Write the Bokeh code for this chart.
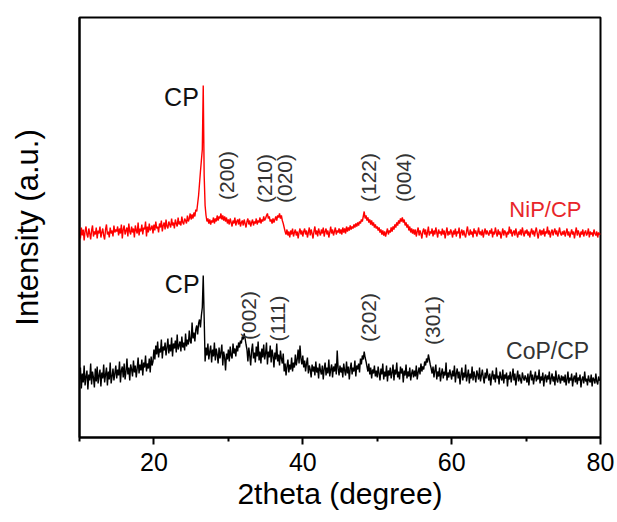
import numpy as np
from bokeh.plotting import figure
from bokeh.models import Range1d, FixedTicker
from bokeh.core.properties import value
from bokeh.embed import file_html
from bokeh.resources import INLINE

# NiP/CP intensity (a.u., offset trace), one value every 0.125 degree from 10 to 80
nip_cp = [
    205, 199, 210, 202, 208, 197, 206, 211, 203, 200, 209, 204, 198, 207, 212, 201, 206, 203, 210, 199,
    207, 204, 211, 200, 205, 209, 202, 198, 208, 213, 203, 206, 200, 210, 204, 207, 201, 212, 205, 208,
    206, 211, 202, 209, 204, 213, 199, 208, 212, 203, 207, 210, 201, 214, 206, 203, 211, 205, 209, 200,
    212, 207, 204, 215, 202, 209, 206, 213, 203, 210, 208, 216, 201, 211, 205, 214, 207, 209, 212, 204,
    213, 207, 216, 209, 211, 205, 214, 210, 217, 206, 212, 215, 208, 218, 211, 209, 216, 213, 210, 219,
    212, 215, 209, 218, 214, 211, 220, 213, 216, 212, 221, 215, 213, 219, 217, 214, 222, 216, 219, 224,
    218, 223, 219, 225, 221, 228, 226, 234, 242, 254, 266, 277, 288, 352, 262, 232, 222, 216, 219, 214,
    218, 213, 217, 215, 220, 214, 219, 216, 222, 217, 221, 219, 224, 218, 222, 217, 221, 216, 220, 214,
    218, 213, 219, 215, 211, 217, 214, 220, 212, 216, 218, 213, 219, 211, 215, 217, 212, 218, 214, 210,
    216, 219, 213, 217, 211, 215, 218, 212, 216, 214, 219, 213, 217, 215, 220, 214, 218, 216, 221, 217,
    219, 222, 224, 219, 221, 216, 218, 214, 219, 215, 218, 221, 217, 222, 220, 224, 219, 222, 217, 214,
    210, 206, 203, 208, 202, 206, 200, 207, 203, 209, 201, 205, 208, 202, 206, 199, 205, 209, 203, 207,
    201, 206, 209, 203, 207, 200, 205, 210, 202, 208, 204, 199, 206, 211, 203, 207, 201, 209, 205, 202,
    208, 204, 210, 201, 206, 209, 203, 207, 200, 205, 211, 204, 208, 202, 206, 210, 203, 207, 205, 209,
    204, 208, 203, 210, 205, 209, 204, 211, 206, 210, 207, 212, 208, 211, 209, 213, 210, 214, 211, 215,
    212, 216, 214, 218, 216, 221, 226, 219, 222, 217, 220, 215, 218, 213, 217, 212, 215, 210, 213, 209,
    211, 207, 210, 205, 208, 203, 207, 202, 206, 201, 205, 209, 203, 207, 205, 210, 206, 211, 208, 213,
    210, 215, 212, 217, 214, 219, 216, 220, 215, 218, 212, 215, 210, 213, 207, 211, 205, 209, 204, 208,
    203, 208, 201, 206, 210, 202, 207, 204, 199, 206, 209, 203, 208, 200, 205, 211, 202, 206, 204, 209,
    201, 207, 203, 210, 205, 200, 208, 204, 206, 202, 209, 203, 207, 199, 205, 210, 202, 206, 203, 208,
    205, 200, 207, 203, 209, 201, 206, 204, 210, 199, 205, 208, 202, 207, 203, 200, 206, 211, 204, 202,
    208, 203, 206, 200, 209, 204, 207, 201, 205, 210, 203, 206, 202, 208, 200, 205, 209, 203, 207, 204,
    202, 207, 204, 209, 200, 206, 203, 210, 205, 201, 208, 203, 206, 199, 204, 209, 202, 207, 205, 200,
    206, 203, 211, 204, 208, 201, 205, 207, 202, 209, 204, 200, 206, 203, 208, 202, 210, 205, 201, 207,
    204, 208, 202, 206, 200, 205, 209, 203, 207, 201, 206, 210, 204, 199, 205, 208, 202, 207, 203, 209,
    201, 206, 204, 211, 203, 207, 200, 205, 208, 202, 206, 209, 203, 207, 201, 205, 210, 204, 202, 206,
    203, 207, 201, 205, 209, 202, 206, 200, 204, 208, 203, 206, 199, 205, 210, 202, 207, 204, 200, 206,
    203, 208, 201, 205, 207, 202, 204, 209, 200, 206, 203, 205, 201, 208, 204, 202, 206, 200, 205, 203,
    204,
]

# CoP/CP intensity (a.u., offset trace), one value every 0.125 degree from 10 to 80
cop_cp = [
    58, 70, 49, 64, 55, 72, 52, 61, 67, 48, 63, 57, 74, 53, 66, 60, 50, 69, 56, 71,
    54, 62, 68, 51, 65, 59, 73, 55, 63, 70, 52, 66, 58, 75, 54, 61, 69, 57, 64, 72,
    59, 68, 62, 76, 55, 67, 71, 60, 74, 58, 66, 79, 63, 70, 57, 73, 68, 61, 77, 65,
    72, 60, 69, 80, 64, 73, 67, 78, 62, 75, 70, 82, 66, 74, 69, 79, 65, 81, 72, 76,
    88, 78, 92, 83, 96, 80, 89, 85, 98, 79, 91, 87, 95, 82, 90, 99, 84, 93, 86, 100,
    81, 94, 89, 97, 85, 103, 88, 92, 96, 86, 101, 90, 95, 87, 104, 91, 98, 93, 107, 96,
    94, 115, 99, 105, 96, 108, 112, 103, 114, 118, 110, 122, 130, 162, 120, 76, 90, 82, 94, 78,
    86, 92, 75, 88, 81, 95, 77, 89, 83, 74, 90, 79, 85, 93, 72, 86, 80, 67, 84, 78,
    88, 76, 91, 82, 79, 94, 84, 89, 81, 92, 86, 95, 90, 97, 94, 101, 98, 104, 99, 93,
    88, 76, 90, 82, 72, 87, 94, 79, 85, 75, 91, 81, 96, 77, 86, 74, 89, 80, 93, 78,
    84, 95, 73, 86, 80, 92, 75, 88, 82, 70, 85, 78, 94, 76, 83, 72, 87, 79, 74, 84,
    66, 74, 62, 71, 78, 65, 73, 68, 80, 66, 75, 70, 83, 72, 78, 88, 74, 92, 79, 73,
    82, 70, 77, 66, 74, 80, 64, 72, 68, 60, 73, 66, 71, 62, 76, 65, 70, 59, 74, 67,
    63, 72, 58, 69, 75, 62, 70, 64, 78, 61, 68, 73, 60, 71, 66, 74, 63, 87, 69, 62,
    72, 65, 70, 60, 74, 67, 62, 76, 64, 71, 58, 69, 75, 63, 70, 66, 77, 61, 72, 68,
    74, 65, 79, 73, 82, 78, 86, 80, 76, 71, 66, 74, 63, 70, 59, 68, 64, 72, 61, 67,
    60, 71, 64, 57, 69, 63, 74, 58, 66, 61, 72, 56, 67, 62, 70, 59, 65, 73, 57, 68,
    63, 75, 60, 66, 58, 71, 64, 69, 55, 67, 62, 73, 59, 66, 61, 70, 57, 64, 68, 60,
    67, 61, 72, 58, 65, 70, 63, 74, 66, 71, 68, 76, 72, 79, 75, 83, 78, 73, 69, 64,
    71, 60, 67, 73, 58, 66, 61, 70, 56, 64, 69, 59, 66, 62, 75, 57, 65, 60, 68, 63,
    58, 67, 61, 72, 55, 64, 69, 59, 66, 53, 63, 70, 57, 65, 60, 73, 56, 62, 68, 54,
    64, 59, 71, 57, 66, 61, 55, 67, 63, 58, 70, 56, 62, 68, 60, 54, 65, 59, 69, 62,
    57, 64, 52, 61, 67, 58, 63, 55, 70, 59, 62, 53, 66, 60, 57, 68, 54, 63, 59, 65,
    51, 62, 58, 66, 55, 61, 69, 57, 64, 52, 60, 67, 56, 63, 58, 54, 65, 60, 57, 62,
    59, 55, 64, 52, 61, 67, 57, 63, 53, 60, 66, 56, 62, 58, 68, 54, 61, 57, 65, 51,
    60, 63, 55, 62, 58, 66, 53, 59, 64, 56, 61, 52, 67, 58, 55, 63, 59, 54, 62, 57,
    61, 55, 63, 52, 58, 66, 54, 60, 57, 64, 51, 59, 62, 55, 65, 53, 60, 57, 63, 50,
    58, 61, 54, 66, 56, 59, 52, 62, 57, 55, 63, 51, 60, 58, 54, 64, 56, 53, 61, 57,
    58,
]

# 2theta sampling grid (degree)
theta_start = 10.0
theta_step = 0.125
nip_x = [theta_start + theta_step * i for i in range(len(nip_cp))]
cop_x = [theta_start + theta_step * i for i in range(len(cop_cp))]

x_ticks = [20, 40, 60, 80]
x_minor_ticks = [10, 30, 50, 70]

# peak annotations
nip_labels = ["(200)", "(210)", "(020)", "(122)", "(004)"]
nip_label_x = [29.75, 34.9, 37.5, 48.8, 53.5]
nip_label_y = [262, 259, 259, 260, 260]
cop_labels = ["(002)", "(111)", "(202)", "(301)"]
cop_label_x = [32.7, 36.6, 48.8, 57.4]
cop_label_y = [122, 119, 120, 117]

FONT = "Liberation Sans"

p = figure(
    output_backend="svg", toolbar_location=None,
    frame_width=521, frame_height=420,
    min_border_left=79, min_border_top=17, min_border_right=17, min_border_bottom=85,
    x_range=Range1d(10, 80), y_range=Range1d(0, 420),
)
p.background_fill_color = "white"
p.border_fill_color = "white"
p.outline_line_color = "black"
p.outline_line_width = 2
p.xgrid.visible = False
p.ygrid.visible = False

p.line(nip_x, nip_cp, line_color="#ff0000", line_width=1.4)
p.line(cop_x, cop_cp, line_color="black", line_width=1.4)

# x axis
xa = p.xaxis[0]
xa.ticker = FixedTicker(ticks=x_ticks, minor_ticks=x_minor_ticks)
xa.axis_line_width = 2
xa.major_tick_line_width = 2
xa.minor_tick_line_width = 2
xa.major_tick_in = 0
xa.major_tick_out = 7
xa.minor_tick_in = 0
xa.minor_tick_out = 4
xa.major_label_text_font = FONT
xa.major_label_text_font_size = "25px"
xa.major_label_text_color = "black"
xa.major_label_standoff = 8
xa.axis_label = "2theta (degree)"
xa.axis_label_text_font = FONT
xa.axis_label_text_font_size = "30px"
xa.axis_label_text_font_style = "normal"
xa.axis_label_text_color = "black"
xa.axis_label_standoff = 3

# y axis
ya = p.yaxis[0]
ya.ticker = FixedTicker(ticks=[])
ya.axis_line_width = 2
ya.major_tick_out = 0
ya.major_tick_in = 0
ya.minor_tick_out = 0
ya.minor_tick_in = 0
ya.major_label_standoff = 0
ya.axis_label = "Intensity (a.u.)"
ya.axis_label_text_font = FONT
ya.axis_label_text_font_size = "31px"
ya.axis_label_text_font_style = "normal"
ya.axis_label_text_color = "black"
ya.axis_label_standoff = 35

# annotations
p.text(x=[23.7, 23.8], y=[341, 154], text=["CP", "CP"], text_font=value(FONT),
       text_font_size="25px", text_color="#111111", text_align="center", text_baseline="middle")
p.text(x=nip_label_x, y=nip_label_y, text=nip_labels, angle=np.pi / 2, text_font=value(FONT),
       text_font_size="21px", text_color="#333333", text_align="center", text_baseline="middle")
p.text(x=cop_label_x, y=cop_label_y, text=cop_labels, angle=np.pi / 2, text_font=value(FONT),
       text_font_size="21px", text_color="#333333", text_align="center", text_baseline="middle")
p.text(x=[72.6], y=[228], text=["NiP/CP"], text_font=value(FONT),
       text_font_size="22px", text_color="#e8262a", text_align="center", text_baseline="middle")
p.text(x=[72.9], y=[87], text=["CoP/CP"], text_font=value(FONT),
       text_font_size="23px", text_color="#333333", text_align="center", text_baseline="middle")

open("out.html", "w").write(file_html(p, INLINE))
